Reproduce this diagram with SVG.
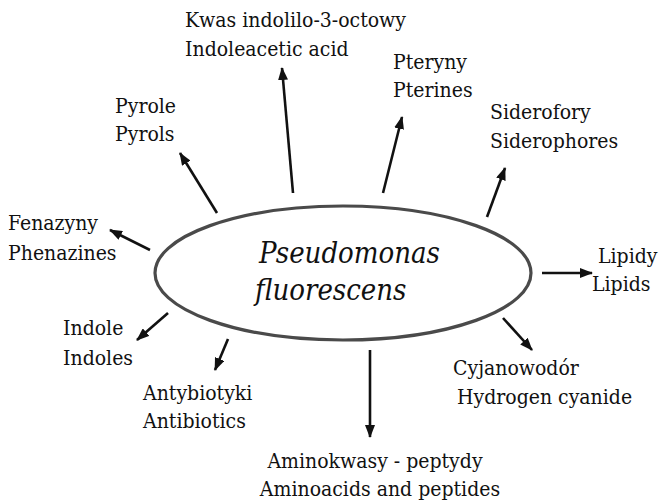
<svg xmlns="http://www.w3.org/2000/svg" width="661" height="504" viewBox="0 0 661 504">
<style>
  .lbl { font-family: "DejaVu Serif Condensed", "DejaVu Serif", serif; font-stretch: condensed; font-size: 21px; fill: #111; }
  .title { font-family: "DejaVu Serif Condensed", "DejaVu Serif", serif; font-stretch: condensed; font-size: 29px; font-style: italic; fill: #111; }
  .conn { stroke: #111; stroke-width: 2.6; fill: none; marker-end: url(#ah); }
</style>
<defs>
  <marker id="ah" markerUnits="userSpaceOnUse" markerWidth="13" markerHeight="10" refX="12" refY="5" orient="auto">
    <path d="M0,0 L13,5 L0,10 z" fill="#111"/>
  </marker>
</defs>
<rect width="661" height="504" fill="#fff"/>

<g id="center">
  <ellipse cx="343" cy="273" rx="188" ry="67" fill="none" stroke="#4a4a4a" stroke-width="3.2"/>
  <text class="title" x="259" y="263">Pseudomonas</text>
  <text class="title" x="255" y="300">fluorescens</text>
</g>

<g id="connectors">
  <line class="conn" x1="293" y1="193" x2="282" y2="68"/>
  <line class="conn" x1="217" y1="213" x2="180" y2="153"/>
  <line class="conn" x1="383" y1="193" x2="402" y2="117"/>
  <line class="conn" x1="487" y1="217" x2="505" y2="168"/>
  <line class="conn" x1="150" y1="250" x2="110" y2="230"/>
  <line class="conn" x1="168" y1="313" x2="137" y2="340"/>
  <line class="conn" x1="228" y1="339" x2="215" y2="370"/>
  <line class="conn" x1="370" y1="350" x2="370" y2="437"/>
  <line class="conn" x1="503" y1="318" x2="532" y2="350"/>
  <line class="conn" x1="542" y1="273" x2="592" y2="273"/>
</g>

<g id="iaa">
  <text class="lbl" x="185" y="27">Kwas indolilo-3-octowy</text>
  <text class="lbl" x="185" y="56">Indoleacetic acid</text>
</g>
<g id="pyrols">
  <text class="lbl" x="115" y="113">Pyrole</text>
  <text class="lbl" x="115" y="141">Pyrols</text>
</g>
<g id="pterines">
  <text class="lbl" x="393" y="69">Pteryny</text>
  <text class="lbl" x="393" y="97">Pterines</text>
</g>
<g id="siderophores">
  <text class="lbl" x="490" y="119">Siderofory</text>
  <text class="lbl" x="490" y="148">Siderophores</text>
</g>
<g id="phenazines">
  <text class="lbl" x="8" y="230">Fenazyny</text>
  <text class="lbl" x="8" y="260">Phenazines</text>
</g>
<g id="lipids">
  <text class="lbl" x="598" y="263">Lipidy</text>
  <text class="lbl" x="592" y="291">Lipids</text>
</g>
<g id="indoles">
  <text class="lbl" x="63" y="335">Indole</text>
  <text class="lbl" x="63" y="365">Indoles</text>
</g>
<g id="antibiotics">
  <text class="lbl" x="143" y="400">Antybiotyki</text>
  <text class="lbl" x="143" y="428">Antibiotics</text>
</g>
<g id="cyanide">
  <text class="lbl" x="453" y="375">Cyjanowodór</text>
  <text class="lbl" x="457" y="404">Hydrogen cyanide</text>
</g>
<g id="aminoacids">
  <text class="lbl" x="375" y="468" text-anchor="middle">Aminokwasy - peptydy</text>
  <text class="lbl" x="380" y="496" text-anchor="middle">Aminoacids and peptides</text>
</g>
</svg>
